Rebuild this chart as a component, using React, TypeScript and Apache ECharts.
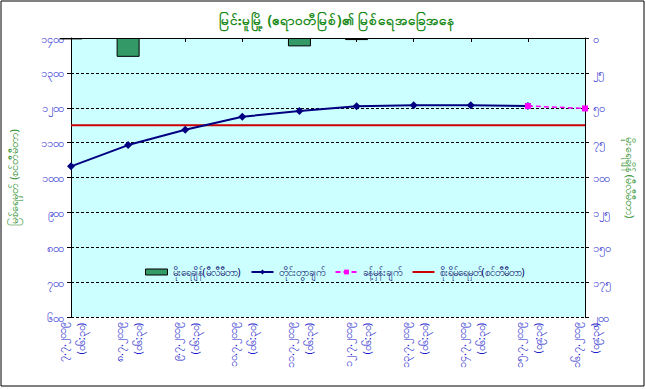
import React, { useEffect, useRef } from "react";
import * as echarts from "echarts";

const dates = ["၇.၇.၂၀၁၉", "၈.၇.၂၀၁၉", "၉.၇.၂၀၁၉", "၁၀.၇.၂၀၁၉", "၁၁.၇.၂၀၁၉", "၁၂.၇.၂၀၁၉", "၁၃.၇.၂၀၁၉", "၁၄.၇.၂၀၁၉", "၁၅.၇.၂၀၁၉", "၁၆.၇.၂၀၁၉"];
const times = ["(၀၆:၃၀)", "(၀၆:၃၀)", "(၀၆:၃၀)", "(၀၆:၃၀)", "(၀၆:၃၀)", "(၀၆:၃၀)", "(၀၆:၃၀)", "(၀၆:၃၀)", "(၀၉:၃၀)", "(၀၉:၃၀)"];
const rainfall = [1, 13.5, 0, 0, 6, 1.5, 0, 0, 0, 0];
const measured = [1032, 1093, 1137, 1174, 1191, 1204, 1207, 1207, 1205, null];
const forecast = [null, null, null, null, null, null, null, null, 1205, 1198];
const danger = [1150, 1150, 1150, 1150, 1150, 1150, 1150, 1150, 1150, 1150];

const title = "မြင်းမူမြို့ (ဧရာဝတီမြစ်)၏ မြစ်ရေအခြေအနေ";
const leftName = "မြစ်ရေမှတ် (စင်တီမီတာ)";
const rightName = "မိုးရေချိန် (မီလီမီတာ)";
const seriesNames = ["မိုးရေချိန်(မီလီမီတာ)", "တိုင်းတွာချက်", "ခန့်မှန်းချက်", "စိုးရိမ်ရေမှတ်(စင်တီမီတာ)"];

const toMy = (v: number | string) => String(v).replace(/\d/g, (d) => String.fromCharCode(0x1040 + Number(d)));
const FONT = "'Noto Sans', sans-serif";
const BLUE = "#1a1acc";
const GREEN = "#1a8a1a";

export default function App() {
  const ref = useRef<HTMLDivElement>(null);
  useEffect(() => {
    const chart = echarts.init(ref.current!, null, { renderer: "svg" });
    const categories = dates.map((d, i) => d + "\n" + times[i]);
    chart.setOption({
      animation: false,
      backgroundColor: "#ffffff",
      textStyle: { fontFamily: FONT },
      title: {
        text: title,
        left: 332,
        textAlign: "center",
        top: 8,
        textStyle: { color: GREEN, fontSize: 13.5, fontWeight: "bold", fontFamily: FONT },
      },
      graphic: [
        { type: "rect", shape: { x: 1, y: 1, width: 643, height: 385 }, style: { fill: "none", stroke: "#000", lineWidth: 1 }, z: 100 },
      ],
      legend: {
        left: 140,
        top: 262,
        itemGap: 10,
        itemWidth: 22,
        itemHeight: 6,
        textStyle: { color: "#000066", fontSize: 10, fontFamily: FONT },
        data: [
          { name: seriesNames[0], icon: "rect", itemStyle: { borderWidth: 1, borderColor: "#000" } },
          { name: seriesNames[1] },
          { name: seriesNames[2] },
          { name: seriesNames[3], itemStyle: { opacity: 0 } },
        ],
      },
      grid: { left: 68, right: 61, top: 38, bottom: 72, show: true, backgroundColor: "#ccffff", borderWidth: 0 },
      xAxis: {
        type: "category",
        data: categories,
        boundaryGap: false,
        axisLine: { lineStyle: { color: "#000", width: 1 } },
        axisTick: { alignWithLabel: true, length: 4, lineStyle: { color: "#000" } },
        axisLabel: { rotate: 90, color: BLUE, fontSize: 11, fontFamily: FONT, lineHeight: 19, interval: 0, margin: 6 },
      },
      yAxis: [
        {
          type: "value",
          min: 600,
          max: 1400,
          interval: 100,
          name: leftName,
          nameLocation: "middle",
          nameRotate: 90,
          nameGap: 52,
          nameTextStyle: { color: GREEN, fontSize: 11, fontFamily: FONT },
          axisLine: { show: true, lineStyle: { color: "#000" } },
          axisTick: { show: true, length: 4, lineStyle: { color: "#000" } },
          axisLabel: { color: BLUE, fontSize: 11, fontFamily: FONT, margin: 8, formatter: (v: number) => toMy(v) },
          splitLine: { show: true, lineStyle: { color: "#000", type: [3, 2], width: 1 } },
        },
        {
          type: "value",
          min: 0,
          max: 200,
          interval: 25,
          inverse: true,
          position: "right",
          name: rightName,
          nameLocation: "middle",
          nameRotate: -90,
          nameGap: 40,
          nameTextStyle: { color: GREEN, fontSize: 11, fontFamily: FONT },
          axisLine: { show: true, lineStyle: { color: "#000" } },
          axisTick: { show: true, length: 4, lineStyle: { color: "#000" } },
          axisLabel: { color: BLUE, fontSize: 11, fontFamily: FONT, margin: 8, formatter: (v: number) => toMy(v) },
          splitLine: { show: false },
        },
      ],
      series: [
        {
          name: seriesNames[0],
          type: "bar",
          yAxisIndex: 1,
          data: rainfall.map((v) => (v > 0 ? v : null)),
          barWidth: 23,
          clip: true,
          itemStyle: { color: "#339966", borderColor: "#000", borderWidth: 1 },
        },
        {
          name: seriesNames[1],
          type: "line",
          data: measured,
          symbol: "diamond",
          symbolSize: 8,
          lineStyle: { color: "#000080", width: 2 },
          itemStyle: { color: "#000080" },
          z: 3,
        },
        {
          name: seriesNames[2],
          type: "line",
          data: forecast,
          symbol: "rect",
          symbolSize: 6,
          lineStyle: { color: "#ff00ff", width: 1.5, type: [5, 3] },
          itemStyle: { color: "#ff00ff" },
          z: 4,
        },
        {
          name: seriesNames[3],
          type: "line",
          data: danger,
          symbol: "none",
          lineStyle: { color: "#cc0000", width: 2 },
          itemStyle: { color: "#cc0000" },
          z: 2,
        },
      ],
    });
    return () => chart.dispose();
  }, []);
  return <div ref={ref} style={{ position: "absolute", left: 0, top: 0, width: 646, height: 389 }} />;
}
